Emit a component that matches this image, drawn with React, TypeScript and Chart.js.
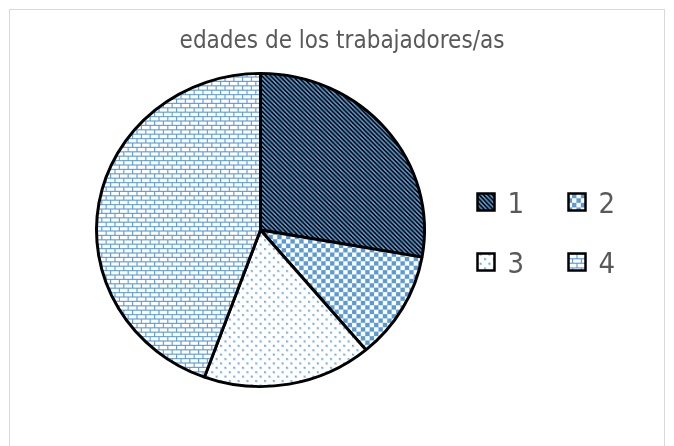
import React, { useEffect, useRef } from "react";
import { Chart, registerables } from "chart.js";

Chart.register(...registerables);

const titleText = "edades de los trabajadores/as";
const categories = ["1", "2", "3", "4"];
const counts = [5, 2, 3, 8];

const BLUE = "#5B9BD5";
const TEXT_GRAY = "#595959";
const FONT = "'Liberation Sans Narrow', 'DejaVu Sans Condensed', 'Liberation Sans', sans-serif";
const Y_SCALE = 316 / 331;
const PATTERN_SCALE = 1.1;

function makePattern(kind: string): CanvasPattern | string {
  const tile = document.createElement("canvas");
  tile.width = 8;
  tile.height = 8;
  const c = tile.getContext("2d");
  if (!c) return BLUE;
  const px = (x: number, y: number, col: string) => {
    c.fillStyle = col;
    c.fillRect(x, y, 1, 1);
  };
  for (let y = 0; y < 8; y++) {
    for (let x = 0; x < 8; x++) {
      if (kind === "stripes") {
        const m = (((x - y) % 4) + 4) % 4;
        px(x, y, m < 2 ? BLUE : "#000000");
      } else if (kind === "checker") {
        const on = (Math.floor(x / 4) + Math.floor(y / 4)) % 2 === 0;
        px(x, y, on ? BLUE : "#ffffff");
      } else if (kind === "dots") {
        px(x, y, "#ffffff");
      } else if (kind === "brick") {
        let on = false;
        if (y === 0 || y === 4) on = true;
        else if (y < 4 && x === 0) on = true;
        else if (y > 4 && x === 4) on = true;
        px(x, y, on ? BLUE : "#ffffff");
      }
    }
  }
  if (kind === "dots") {
    c.fillStyle = "#9cc2e8";
    c.fillRect(0, 0, 2, 2);
    c.fillRect(4, 4, 2, 2);
    c.fillStyle = BLUE;
    c.fillRect(0, 0, 1, 1);
    c.fillRect(4, 4, 1, 1);
  }
  const ctx = document.createElement("canvas").getContext("2d");
  const p = ctx ? ctx.createPattern(tile, "repeat") : null;
  if (p && typeof DOMMatrix !== "undefined") {
    try {
      p.setTransform(new DOMMatrix().scale(PATTERN_SCALE, PATTERN_SCALE / Y_SCALE));
    } catch (e) {
      /* ignore */
    }
  }
  return p || BLUE;
}

const ellipsePlugin = {
  id: "ellipse",
  beforeDatasetsDraw(chart: any) {
    const { ctx, chartArea } = chart;
    const cx = (chartArea.left + chartArea.right) / 2;
    const cy = (chartArea.top + chartArea.bottom) / 2;
    ctx.save();
    ctx.translate(cx, cy);
    ctx.scale(1, Y_SCALE);
    ctx.translate(-cx, -cy);
  },
  afterDatasetsDraw(chart: any) {
    chart.ctx.restore();
  },
};

const titleLegendPlugin = {
  id: "titleLegend",
  afterDraw(chart: any) {
    const { ctx } = chart;
    ctx.save();
    ctx.fillStyle = TEXT_GRAY;
    ctx.font = `24px ${FONT}`;
    ctx.textAlign = "center";
    ctx.textBaseline = "alphabetic";
    ctx.fillText(titleText, 342, 48);

    const labels: string[] = chart.data.labels;
    const bgs = chart.data.datasets[0].backgroundColor;
    labels.forEach((lab, i) => {
      const col = i % 2;
      const row = Math.floor(i / 2);
      const bx = 477.5 + col * 91;
      const by = 193.5 + row * 60;
      const size = 17;
      ctx.fillStyle = bgs[i];
      ctx.fillRect(bx, by, size, size);
      ctx.lineWidth = 2.5;
      ctx.strokeStyle = "#000000";
      ctx.strokeRect(bx, by, size, size);
      ctx.fillStyle = TEXT_GRAY;
      ctx.font = `29px ${FONT}`;
      ctx.textAlign = "left";
      ctx.textBaseline = "alphabetic";
      ctx.fillText(lab, bx + 30, by + 19.5);
    });
    ctx.restore();
  },
};

export default function App() {
  const ref = useRef<HTMLCanvasElement | null>(null);

  useEffect(() => {
    if (!ref.current) return;
    const patterns = [
      makePattern("stripes"),
      makePattern("checker"),
      makePattern("dots"),
      makePattern("brick"),
    ];
    const chart = new Chart(ref.current, {
      type: "pie",
      data: {
        labels: categories,
        datasets: [
          {
            data: counts,
            backgroundColor: patterns as any,
            borderColor: "#000000",
            borderWidth: 3,
          },
        ],
      },
      options: {
        animation: false,
        responsive: false,
        radius: 164,
        layout: { padding: { left: 90, right: 243, top: 60, bottom: 46 } },
        plugins: {
          legend: { display: false },
          title: { display: false },
          tooltip: { enabled: false },
        },
      } as any,
      plugins: [ellipsePlugin, titleLegendPlugin],
    });
    return () => chart.destroy();
  }, []);

  return (
    <div
      style={{
        position: "fixed",
        left: 0,
        top: 0,
        width: 674,
        height: 446,
        background: "#ffffff",
        overflow: "hidden",
      }}
    >
      <div
        style={{
          position: "absolute",
          left: 9,
          top: 9,
          width: 654,
          height: 480,
          border: "1px solid #d9d9d9",
        }}
      />
      <canvas
        ref={ref}
        width={674}
        height={446}
        style={{ position: "absolute", left: 0, top: 0, width: 674, height: 446 }}
      />
    </div>
  );
}
